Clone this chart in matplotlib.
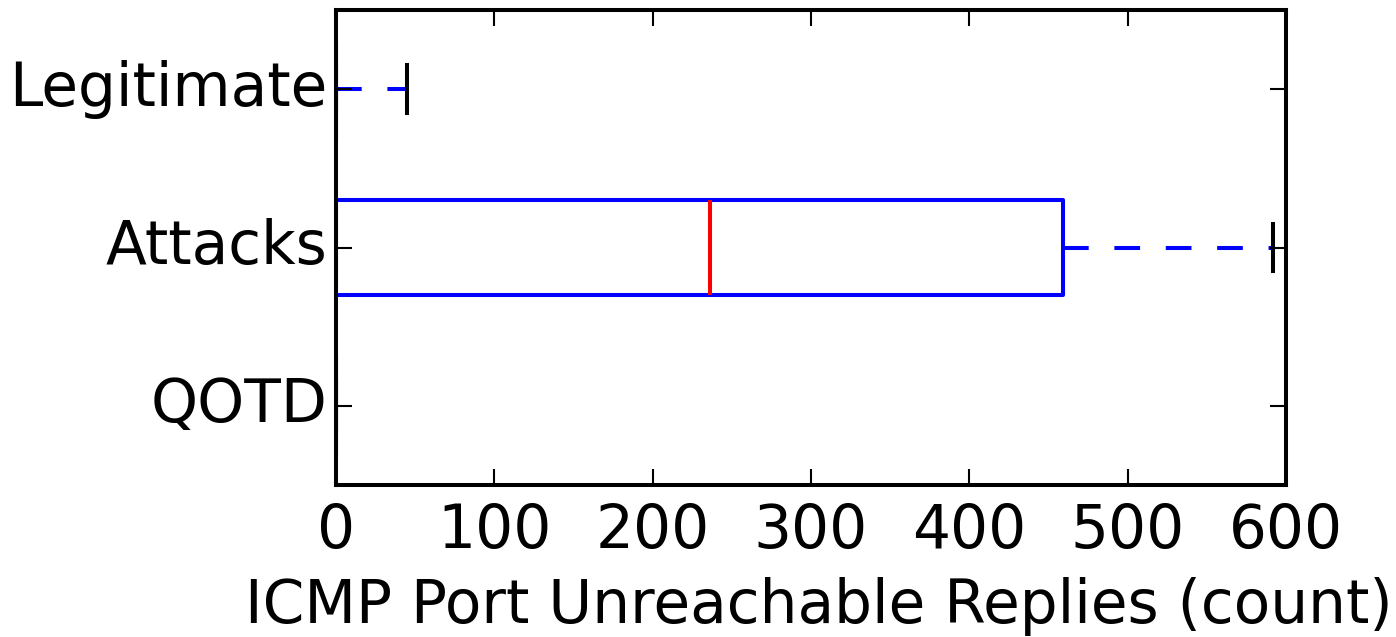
import matplotlib
matplotlib.use("Agg")
import matplotlib.pyplot as plt

plt.style.use("classic")
plt.rcParams["font.family"] = ["DejaVu Sans"]
plt.rcParams["lines.scale_dashes"] = False

categories = ["QOTD", "Attacks", "Legitimate"]
q1 = [0, 0, 0]
med = [0, 236, 0]
q3 = [0, 459, 0]
whislo = [0, 0, 0]
whishi = [0, 592, 45]
xlabel = "ICMP Port Unreachable Replies (count)"
xticks = [0, 100, 200, 300, 400, 500, 600]

stats = []
for i, c in enumerate(categories):
    stats.append(dict(label=c, q1=q1[i], med=med[i], q3=q3[i],
                      whislo=whislo[i], whishi=whishi[i], fliers=[]))

fig = plt.figure(figsize=(13.96, 6.37), dpi=100, facecolor="white")
ax = fig.add_axes([0.2407, 0.2386, 0.6805, 0.7457])
lw = 2.9
ax.bxp(stats, vert=False, widths=0.6, showfliers=False,
       boxprops=dict(color="blue", linewidth=lw),
       medianprops=dict(color="red", linewidth=lw),
       whiskerprops=dict(color="blue", linewidth=lw, linestyle=(0, (18.5, 18.5))),
       capprops=dict(color="black", linewidth=lw))
ax.set_xlim(0, 600)
ax.set_ylim(0.5, 3.5)
ax.set_xticks(xticks)
ax.set_yticks([1, 2, 3])
ax.set_yticklabels(categories)
ax.tick_params(axis="both", which="major", labelsize=43, length=11.5, width=1.5, direction="in",
               top=True, right=True)
ax.tick_params(axis="x", pad=12)
ax.tick_params(axis="y", pad=6)
for s in ax.spines.values():
    s.set_linewidth(2.9)
ax.set_xlabel(xlabel, fontsize=43, labelpad=12)
ax.xaxis.label.set_x(0.5 + 8 / 950)
fig.savefig("out.png", dpi=100, facecolor="white")
